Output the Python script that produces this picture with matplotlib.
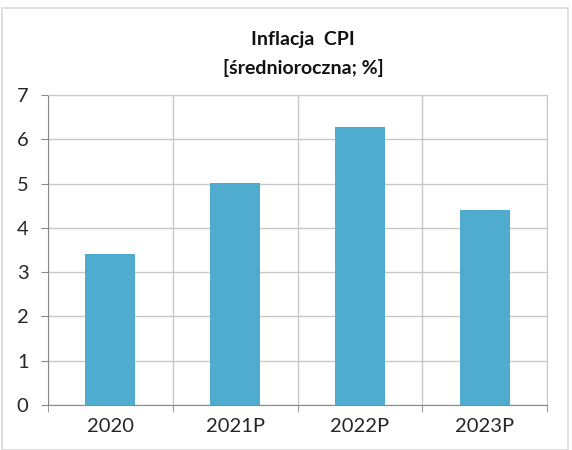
import matplotlib
matplotlib.use("Agg")
import matplotlib.pyplot as plt
from matplotlib.patches import Rectangle
import numpy as np

categories = ["2020", "2021P", "2022P", "2023P"]
values = [3.4, 5.02, 6.28, 4.4]
yticks = [0, 1, 2, 3, 4, 5, 6, 7]

plt.rcParams['font.family'] = ['Lato', 'DejaVu Sans']

fig = plt.figure(figsize=(5.72, 4.5), dpi=100)
fig.patches.append(Rectangle((0.003, 0.0), 0.99, 0.982, transform=fig.transFigure,
                             fill=False, edgecolor='#d9d9d9', linewidth=1.2))
ax = fig.add_axes([48/572, 1-405/450, (547-48)/572, (405-95)/450])

x = np.arange(len(categories))
ax.bar(x, values, width=0.4, color='#4FACCE', zorder=3)
ax.set_xlim(-0.5, len(categories)-0.5)
ax.set_ylim(0, 7)
ax.set_yticks(yticks)
ax.set_xticks(x)
ax.set_xticklabels(categories, fontsize=14.5, color='#262626')
ax.set_yticklabels([str(v) for v in yticks], fontsize=14.5, color='#262626')
ax.set_xticks(np.arange(-0.5, len(categories), 1), minor=True)
ax.tick_params(axis='x', which='major', length=0, pad=9)
ax.tick_params(axis='x', which='minor', length=5, color='#888888', direction='out')
ax.tick_params(axis='y', length=5, color='#888888', pad=9)
ax.grid(True, axis='y', color='#c8c8c8', linewidth=1, zorder=0)
ax.grid(True, axis='x', which='minor', color='#c8c8c8', linewidth=1, zorder=0)
for s in ['top', 'right']:
    ax.spines[s].set_color('#c8c8c8')
for s in ['left', 'bottom']:
    ax.spines[s].set_color('#888888')

fig.text(303/572, 1-39/450, "Inflacja  CPI", ha='center', va='center',
         fontsize=14, fontweight='bold', color='#111111')
fig.text(303/572, 1-68/450, "[średnioroczna; %]", ha='center', va='center',
         fontsize=14, fontweight='bold', color='#111111')

fig.savefig("out.png", dpi=100)
